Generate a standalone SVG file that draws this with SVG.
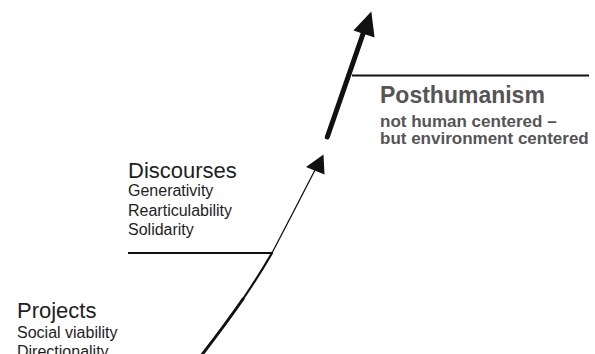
<svg xmlns="http://www.w3.org/2000/svg" width="595" height="354" viewBox="0 0 595 354">
<style>
.t{font-family:"Liberation Sans",Arial,sans-serif;fill:#1e1e1e}
.h{font-size:22px}
.s{font-size:16px}
.p{font-family:"Liberation Sans",Arial,sans-serif;fill:#555;font-weight:bold}
.rule{stroke:#111;stroke-width:2;fill:none}
.ln{stroke:#111;fill:none;stroke-linecap:round}
.head{fill:#111}
</style>
<rect width="595" height="354" fill="#fff"/>
<g id="projects">
<text class="t h" x="17" y="318">Projects</text>
<text class="t s" x="17" y="338">Social viability</text>
<text class="t s" x="17" y="357">Directionality</text>
</g>
<g id="discourses">
<text class="t h" x="128" y="178">Discourses</text>
<text class="t s" x="128" y="196">Generativity</text>
<text class="t s" x="128" y="215.5">Rearticulability</text>
<text class="t s" x="128" y="235">Solidarity</text>
<line class="rule" x1="128" y1="253" x2="272" y2="253"/>
</g>
<g id="posthumanism">
<line class="rule" x1="352" y1="75.5" x2="589" y2="75.5"/>
<text class="p" x="380" y="102.5" font-size="23">Posthumanism</text>
<text class="p" x="380" y="126.5" font-size="17">not human centered –</text>
<text class="p" x="380" y="144" font-size="17">but environment centered</text>
</g>
<g id="connectors">
<path class="ln" d="M201,356 Q225,325 243,299" stroke-width="3"/>
<path class="ln" d="M243,299 Q260,274 272,253" stroke-width="2.2"/>
<path class="ln" d="M272,253 Q294,211 315,170" stroke-width="1.3"/>
<polygon class="head" points="323.5,154.5 306,167 324.5,174.5"/>
<line class="ln" x1="327.3" y1="137" x2="364" y2="31" stroke-width="5" stroke-linecap="butt"/>
<polygon class="head" points="371.3,11.5 353.4,30.5 374.6,37.5"/>
</g>
</svg>
